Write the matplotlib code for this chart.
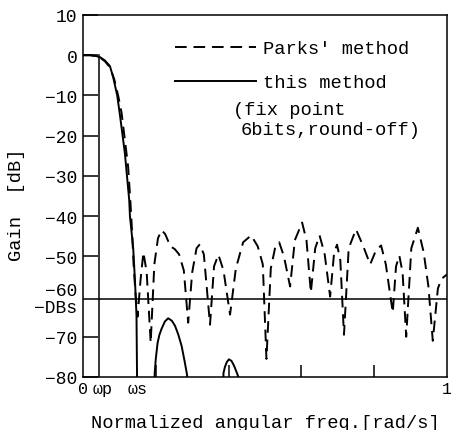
import matplotlib
matplotlib.use('Agg')
import matplotlib.pyplot as plt
import matplotlib.transforms as mtransforms

plt.rcParams['font.family'] = ['Liberation Mono', 'DejaVu Sans Mono']

# band edges and stopband level (normalized freq, dB)
wp = 0.045
ws = 0.149
dbs = -60.6

# Parks' method (dashed)
parks_x = [0.000, 0.020, 0.035, 0.047, 0.060, 0.074, 0.086, 0.097, 0.106, 0.115,
           0.124, 0.130, 0.135, 0.139, 0.144, 0.150, 0.158, 0.166, 0.175, 0.186,
           0.196, 0.206, 0.216, 0.226, 0.240, 0.252, 0.264, 0.277, 0.289, 0.300,
           0.312, 0.321, 0.332, 0.349, 0.360, 0.372, 0.386, 0.404, 0.420, 0.440,
           0.462, 0.480, 0.494, 0.504, 0.516, 0.528, 0.539, 0.552, 0.569, 0.582,
           0.602, 0.614, 0.626, 0.638, 0.650, 0.664, 0.679, 0.690, 0.698, 0.707,
           0.717, 0.730, 0.750, 0.770, 0.789, 0.805, 0.819, 0.832, 0.851, 0.860,
           0.869, 0.878, 0.888, 0.902, 0.920, 0.936, 0.949, 0.961, 0.975, 0.985,
           1.000]
parks_db = [0.0, 0.0, -0.2, -0.6, -1.5, -3.0, -6.0, -10.2, -14.3, -21.0,
            -27.7, -36.0, -44.0, -52.0, -59.0, -65.0, -56.0, -49.0, -54.0, -71.5,
            -52.0, -45.5, -43.5, -44.5, -47.5, -48.2, -49.5, -53.5, -66.5, -54.0,
            -48.0, -47.0, -49.5, -67.0, -52.5, -49.6, -53.5, -64.5, -53.0, -46.5,
            -44.8, -47.5, -52.0, -75.5, -53.0, -47.8, -46.5, -50.0, -57.5, -46.0,
            -41.6, -46.0, -59.0, -48.0, -44.8, -49.5, -60.0, -49.0, -47.1, -51.0,
            -69.5, -48.0, -43.3, -47.5, -52.0, -48.5, -47.3, -52.0, -64.0, -52.5,
            -49.8, -54.0, -70.0, -48.0, -42.9, -49.0, -57.5, -71.0, -58.0, -55.6,
            -54.5]

# this method (solid); -95 means below the bottom of the plot
this_x = [0.000, 0.020, 0.035, 0.047, 0.060, 0.074, 0.083, 0.094, 0.102, 0.115,
          0.127, 0.129, 0.138, 0.143, 0.147, 0.150,
          0.193, 0.197, 0.200, 0.205, 0.210, 0.216, 0.225, 0.234, 0.244, 0.253,
          0.262, 0.271, 0.279, 0.286, 0.290,
          0.382, 0.386, 0.390, 0.395, 0.401, 0.408, 0.415, 0.422, 0.427, 0.431,
          1.000]
this_db = [0.0, 0.0, -0.2, -0.5, -1.3, -2.7, -5.5, -10.0, -15.2, -24.3,
           -36.0, -40.0, -48.0, -56.4, -64.7, -95,
           -95, -79.0, -75.5, -71.5, -69.5, -68.0, -66.2, -65.4, -66.0, -67.3,
           -69.5, -72.3, -76.0, -79.5, -95,
           -95, -79.0, -77.5, -76.3, -75.6, -76.0, -77.2, -78.8, -80.0, -95,
           -95]

yticks = [10, 0, -10, -20, -30, -40, -50, -70, -80]

fig = plt.figure(figsize=(4.52, 4.31), dpi=100)
ax = fig.add_axes([0.1836, 0.1230, 0.8053, 0.8399])

l1, = ax.plot(parks_x, parks_db, color='black', lw=1.4, dashes=(6, 3.5))
l2, = ax.plot(this_x, this_db, color='black', lw=1.4)

ax.axhline(dbs, color='black', lw=1.1)
ax.plot([wp, wp], [0, -80], color='black', lw=1.1)

ax.set_xlim(0, 1)
ax.set_ylim(-80, 10)

for s in ax.spines.values():
    s.set_linewidth(1.1)

ax.set_yticks(yticks)
ax.tick_params(axis='y', direction='in', length=11, width=1.1, labelsize=13, pad=4)

ax.set_xticks([0.2, 0.4, 0.6, 0.8])
ax.set_xticklabels([])
ax.tick_params(axis='x', which='major', direction='in', length=9, width=1.1)
ax.set_xticks([0, wp, ws, 1], minor=True)
ax.set_xticklabels(['0', '\u03c9p', '\u03c9s', '1'], minor=True)
ax.tick_params(axis='x', which='minor', length=0, labelsize=12, pad=3)
xlabs = ax.get_xticklabels(minor=True)
xlabs[1].set_transform(xlabs[1].get_transform() +
                       mtransforms.ScaledTranslation(2 / 72, 0, fig.dpi_scale_trans))

ax.annotate('\u221260', xy=(0, -58.5), xycoords=('axes fraction', 'data'),
            xytext=(-4, 0), textcoords='offset points', ha='right', va='center',
            fontsize=13)
ax.annotate('\u2212DBs', xy=(0, -62.7), xycoords=('axes fraction', 'data'),
            xytext=(-4, 0), textcoords='offset points', ha='right', va='center',
            fontsize=13)

ax.legend([l1, l2], ["Parks' method", "this method"], loc='upper left',
          bbox_to_anchor=(0.2527, 0.931), frameon=False, fontsize=13.5,
          handlelength=4.3, handletextpad=0.4, labelspacing=0.91,
          borderpad=0, borderaxespad=0)
ax.text(0.412, -13.5, '(fix point', fontsize=13.5, va='center', ha='left')
ax.text(0.434, -18.5, '6bits,round-off)', fontsize=13.5, va='center', ha='left')

ax.set_xlabel('Normalized angular freq.[rad/s]', fontsize=13.5)
ax.xaxis.set_label_coords(0.5, -0.103)
ax.set_ylabel('Gain  [dB]', fontsize=13.5)
ax.yaxis.set_label_coords(-0.16, 0.479)

plt.savefig('out.png', dpi=100)
